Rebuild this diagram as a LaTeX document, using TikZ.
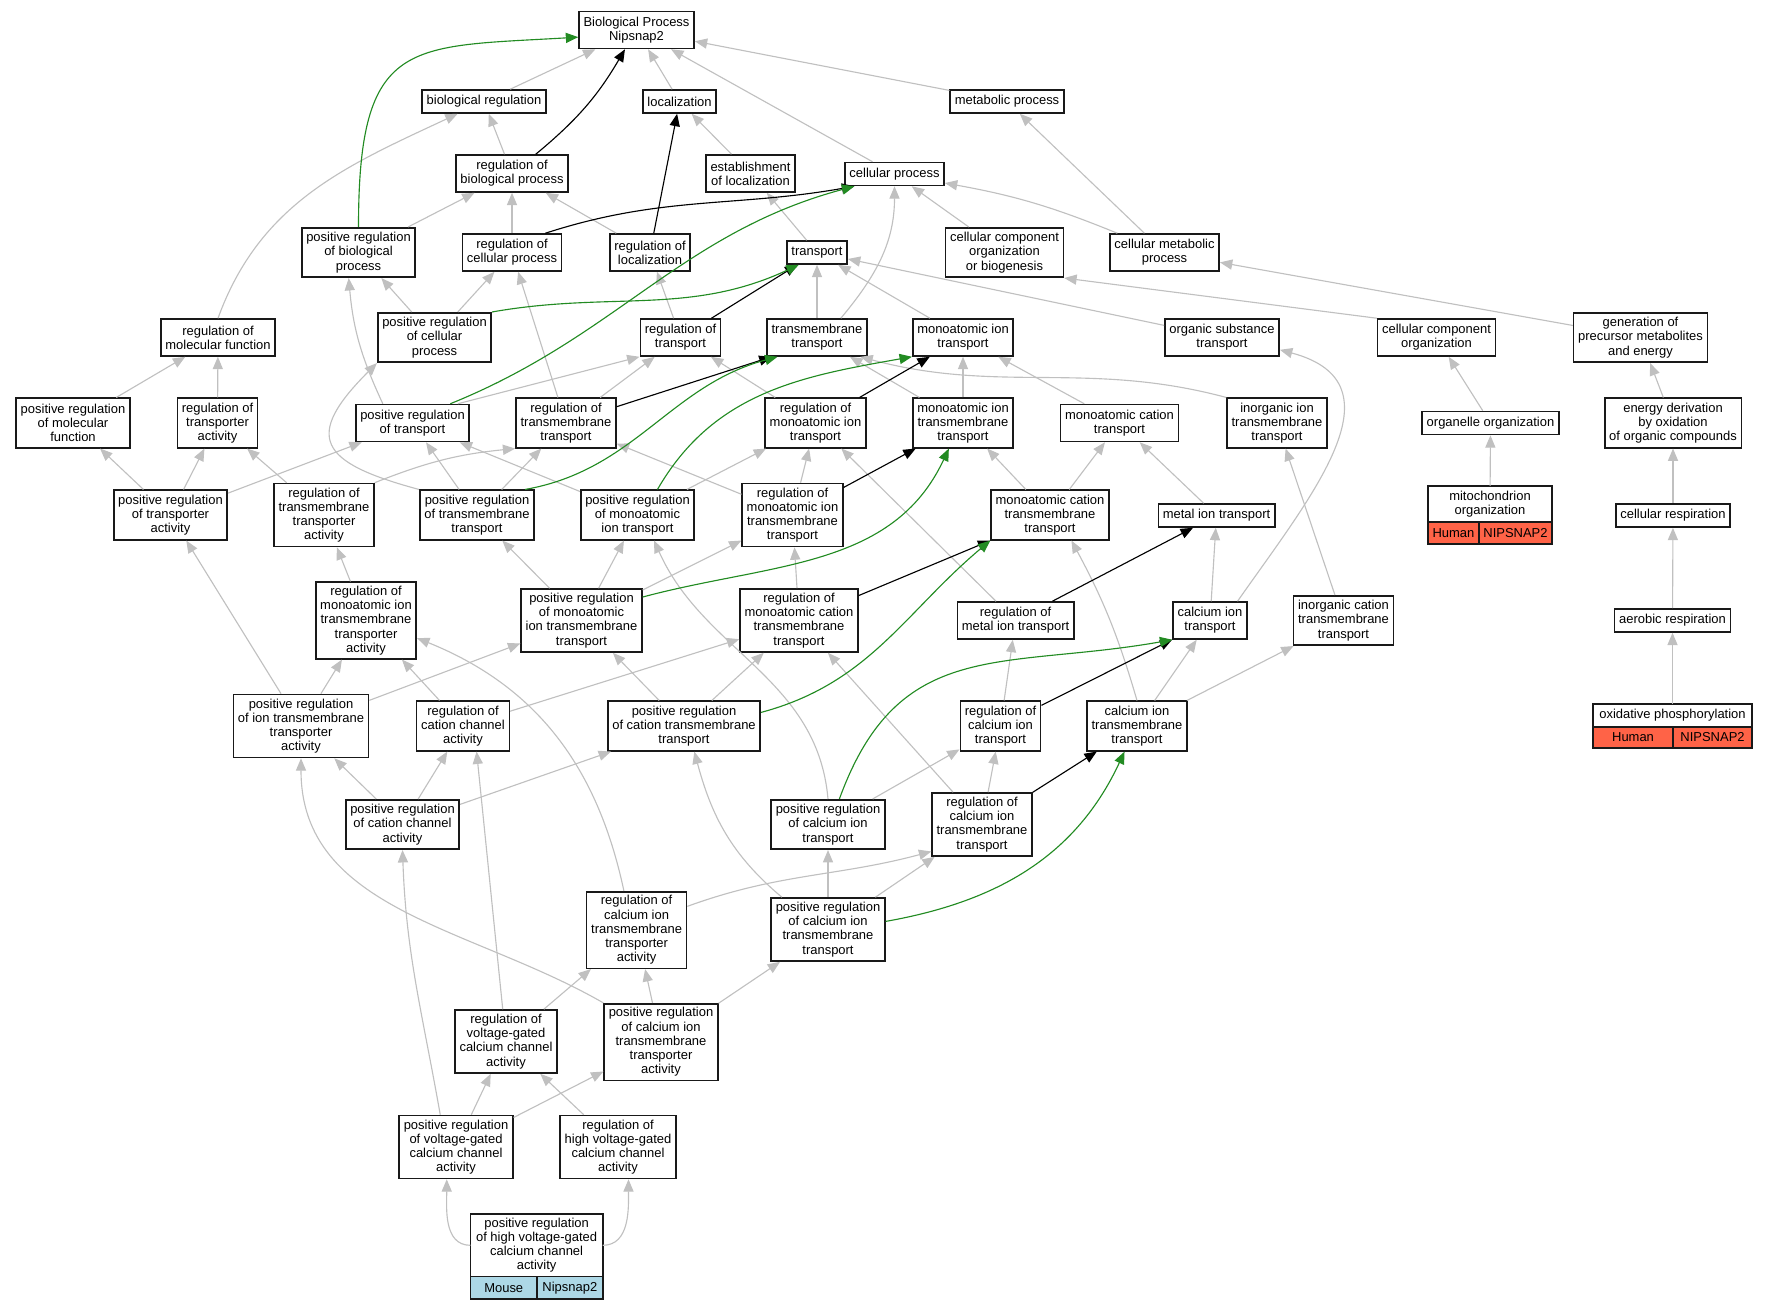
\documentclass[tikz,border=0pt]{standalone}
\usepackage{fontspec}
\setmainfont{Liberation Sans}
\usepackage{tikz}
\usetikzlibrary{arrows.meta}
\definecolor{isagray}{HTML}{C0C0C0}
\definecolor{posgreen}{HTML}{228B22}
\definecolor{humanred}{HTML}{FF6347}
\definecolor{mouseblue}{HTML}{ADD8E6}

\begin{document}
\begin{tikzpicture}[x=0.887pt, y=0.887pt,
    term/.style={draw=black!90, line width=1.4pt, fill=white, align=center,
                 inner xsep=4pt, inner ysep=2pt, font=\fontsize{11.5}{12.6}\selectfont},
    l1/.style={term, minimum height=20.4pt},
    l2/.style={term, minimum height=32.8pt},
    l3/.style={term, minimum height=43.9pt},
    l4/.style={term, minimum height=55.9pt},
    l5/.style={term, minimum height=67.9pt},
    cell/.style={draw=black!90, line width=1.4pt, inner sep=0pt, outer sep=0pt,
                 font=\fontsize{11.5}{12.6}\selectfont, anchor=north west},
    human/.style={cell, fill=humanred},
    mouse/.style={cell, fill=mouseblue},
    isa/.style={-{Triangle[length=11pt, width=9pt]}, line width=1pt, isagray},
    regs/.style={-{Triangle[length=11pt, width=9pt]}, line width=1pt, black},
    posregs/.style={-{Triangle[length=11pt, width=9pt]}, line width=1pt, posgreen}
  ]
  \useasboundingbox (0,0) rectangle (1767,-1309);
  % --- top levels ---
  \node[l2] (root) at (636.5,-30) {Biological Process\\Nipsnap2};
  \node[l1] (bioreg) at (484,-101.5) {biological regulation};
  \node[l1] (loc) at (679.5,-101.5) {localization};
  \node[l1] (metab) at (1007,-101.5) {metabolic process};
  \node[l2] (regbio) at (512,-173.5) {regulation of\\biological process};
  \node[l2] (estloc) at (750.5,-173.5) {establishment\\of localization};
  \node[l1] (cellproc) at (894.5,-174) {cellular process};
  \node[l3] (posbio) at (358.5,-252.5) {positive regulation\\of biological\\process};
  \node[l2] (regcell) at (512,-252.5) {regulation of\\cellular process};
  \node[l2] (regloc) at (650,-252.5) {regulation of\\localization};
  \node[l1] (transport) at (817,-252.5) {transport};
  \node[l3] (ccorg) at (1004.5,-252.5) {cellular component\\organization\\or biogenesis};
  \node[l2] (cellmet) at (1164.5,-252.5) {cellular metabolic\\process};
  % --- transport levels ---
  \node[l2] (regmol) at (218,-337.5) {regulation of\\molecular function};
  \node[l3] (poscell) at (434.5,-337.5) {positive regulation\\of cellular\\process};
  \node[l2] (regtransp) at (680.5,-337.5) {regulation of\\transport};
  \node[l2] (tmtransport) at (817,-337.5) {transmembrane\\transport};
  \node[l2] (mit) at (963,-337.5) {monoatomic ion\\transport};
  \node[l2] (orgsub) at (1222,-337.5) {organic substance\\transport};
  \node[l2] (ccorg2) at (1436.5,-337.5) {cellular component\\organization};
  \node[l3] (genprec) at (1640.5,-337.5) {generation of\\precursor metabolites\\and energy};
  \node[l3] (posmol) at (73,-423) {positive regulation\\of molecular\\function};
  \node[l3] (regtra) at (217.5,-423) {regulation of\\transporter\\activity};
  \node[l2] (postransp) at (412.5,-423) {positive regulation\\of transport};
  \node[l3] (regtmt) at (566,-423) {regulation of\\transmembrane\\transport};
  \node[l3] (regmit) at (815.5,-423) {regulation of\\monoatomic ion\\transport};
  \node[l3] (mitt) at (963,-423) {monoatomic ion\\transmembrane\\transport};
  \node[l2] (mct) at (1119.5,-423) {monoatomic cation\\transport};
  \node[l3] (iit) at (1277,-423) {inorganic ion\\transmembrane\\transport};
  \node[l1] (orgorg) at (1490.5,-423) {organelle organization};
  \node[l3] (ender) at (1673,-423) {energy derivation\\by oxidation\\of organic compounds};
  \node[l3] (postra) at (170.5,-515) {positive regulation\\of transporter\\activity};
  \node[l4] (regtmta) at (324,-515) {regulation of\\transmembrane\\transporter\\activity};
  \node[l3] (postmt) at (477,-515) {positive regulation\\of transmembrane\\transport};
  \node[l3] (posmi) at (637.5,-515) {positive regulation\\of monoatomic\\ion transport};
  \node[l4] (regmitt) at (792.5,-515) {regulation of\\monoatomic ion\\transmembrane\\transport};
  \node[l3] (mctt) at (1050,-515) {monoatomic cation\\transmembrane\\transport};
  \node[l1] (metalt) at (1216.5,-515.5) {metal ion transport};
  \node[term, minimum width=110pt, minimum height=32pt, outer sep=0pt] (mito) at (1490,-504)
    {mitochondrion\\organization};
  \node[human, minimum width=45.2pt, minimum height=19.5pt] (mitoH) at (mito.south west) {Human};
  \node[human, minimum width=64.8pt, minimum height=19.5pt] (mitoN) at (mitoH.north east) {NIPSNAP2};
  \node[l1] (cellresp) at (1673,-515.5) {cellular respiration};
  % --- channel levels ---
  \node[l5] (regmitta) at (366,-620.5) {regulation of\\monoatomic ion\\transmembrane\\transporter\\activity};
  \node[l4] (posmitt) at (581.5,-620.5) {positive regulation\\of monoatomic\\ion transmembrane\\transport};
  \node[l4] (regmctt) at (799,-620.5) {regulation of\\monoatomic cation\\transmembrane\\transport};
  \node[l2] (regmetal) at (1015.5,-620.5) {regulation of\\metal ion transport};
  \node[l2] (calt) at (1210,-620.5) {calcium ion\\transport};
  \node[l3] (ict) at (1343.5,-620.5) {inorganic cation\\transmembrane\\transport};
  \node[l1] (aerob) at (1672.5,-620.5) {aerobic respiration};
  \node[l4] (positta) at (301,-726) {positive regulation\\of ion transmembrane\\transporter\\activity};
  \node[l3] (regcca) at (463,-726) {regulation of\\cation channel\\activity};
  \node[l3] (posctt) at (684,-726) {positive regulation\\of cation transmembrane\\transport};
  \node[l3] (regcit) at (1000.5,-726) {regulation of\\calcium ion\\transport};
  \node[l3] (catt) at (1137,-726) {calcium ion\\transmembrane\\transport};
  \node[term, minimum width=141pt, minimum height=20.4pt, outer sep=0pt] (oxphos) at (1672.5,-715.5)
    {oxidative phosphorylation};
  \node[human, minimum width=71pt, minimum height=18.6pt] (oxH) at (oxphos.south west) {Human};
  \node[human, minimum width=70pt, minimum height=18.6pt] (oxN) at (oxH.north east) {NIPSNAP2};
  \node[l3] (poscca) at (402.5,-824.5) {positive regulation\\of cation channel\\activity};
  \node[l3] (posciont) at (828,-824.5) {positive regulation\\of calcium ion\\transport};
  \node[l4] (regcitt) at (982,-824.5) {regulation of\\calcium ion\\transmembrane\\transport};
  \node[l5] (regcitta) at (636.6,-930) {regulation of\\calcium ion\\transmembrane\\transporter\\activity};
  \node[l4] (posciontt) at (828,-929.5) {positive regulation\\of calcium ion\\transmembrane\\transport};
  \node[l4] (regvg) at (506,-1041.5) {regulation of\\voltage-gated\\calcium channel\\activity};
  \node[l5] (poscitta) at (661,-1042) {positive regulation\\of calcium ion\\transmembrane\\transporter\\activity};
  \node[l4] (posvg) at (456,-1147) {positive regulation\\of voltage-gated\\calcium channel\\activity};
  \node[l4] (reghvg) at (618,-1147) {regulation of\\high voltage-gated\\calcium channel\\activity};
  \node[term, minimum width=117.3pt, minimum height=55.6pt, outer sep=0pt] (poshvg) at (536.6,-1245.3)
    {positive regulation\\of high voltage-gated\\calcium channel\\activity};
  \node[mouse, minimum width=59pt, minimum height=19.8pt] (poshvgM) at (poshvg.south west) {Mouse};
  \node[mouse, minimum width=58.3pt, minimum height=19.8pt] (poshvgN) at (poshvgM.north east) {Nipsnap2};

  % --- is_a edges ---
  \draw[isa] (bioreg) -- (root);
  \draw[isa] (loc) -- (root);
  \draw[isa] (cellproc) -- (root);
  \draw[isa] (metab) -- (root);
  \draw[isa] (regbio) -- (bioreg);
  \draw[isa] (regmol.north) to[out=70,in=205] (bioreg.205);
  \draw[isa] (estloc) -- (loc);
  \draw[isa] (cellmet) -- (metab);
  \draw[isa] (posbio) -- (regbio);
  \draw[isa] (regcell) -- (regbio);
  \draw[isa] (regloc) -- (regbio);
  \draw[isa] (transport) -- (estloc);
  \draw[isa] (tmtransport.39) to[out=50,in=-90] (cellproc.south);
  \draw[isa] (ccorg) -- (cellproc);
  \draw[isa] (cellmet) to[bend right=6] (cellproc);
  \draw[isa] (poscell) -- (posbio);
  \draw[isa] (postransp.147) to[out=115,in=-85] (posbio.249);
  \draw[isa] (poscell) -- (regcell);
  \draw[isa] (regtmt) -- (regcell);
  \draw[isa] (regtransp) -- (regloc);
  \draw[isa] (tmtransport) -- (transport);
  \draw[isa] (mit) -- (transport);
  \draw[isa] (orgsub) -- (transport);
  \draw[isa] (posmol) -- (regmol);
  \draw[isa] (regtra) -- (regmol);
  \draw[isa] (postmt.north west) to[out=165,in=225,looseness=2] (poscell.south west);
  \draw[isa] (postra) -- (posmol);
  \draw[isa] (postra) -- (regtra);
  \draw[isa] (regtmta) -- (regtra);
  \draw[isa] (postra) -- (postransp);
  \draw[isa] (postmt) -- (postransp);
  \draw[isa] (posmi) -- (postransp);
  \draw[isa] (regtmta.north east) to[bend left=8] (regtmt.south west);
  \draw[isa] (postmt) -- (regtmt);
  \draw[isa] (regmitt) -- (regtmt);
  \draw[isa] (posmi) -- (regmit);
  \draw[isa] (regmitt) -- (regmit);
  \draw[isa] (regmetal) -- (regmit);
  \draw[isa] (postransp.23) -- (regtransp.south west);
  \draw[isa] (regtmt) -- (regtransp);
  \draw[isa] (regmit) -- (regtransp);
  \draw[isa] (mitt) -- (tmtransport);
  \draw[isa] (iit.north west) to[out=165,in=-15] (tmtransport.-24);
  \draw[isa] (mitt) -- (mit);
  \draw[isa] (mct) -- (mit);
  \draw[isa] (mctt) -- (mitt);
  \draw[isa] (mctt) -- (mct);
  \draw[isa] (metalt) -- (mct);
  \draw[isa] (ict) -- (iit);
  \draw[isa] (calt.35) to[out=55,in=-15,looseness=1.3] (orgsub.-12);
  \draw[isa] (ccorg2.north west) -- (ccorg.south east);
  \draw[isa] (genprec) -- (cellmet);
  \draw[isa] (orgorg) -- (ccorg2);
  \draw[isa] (ender) -- (genprec);
  \draw[isa] (mito) -- (orgorg);
  \draw[isa] (cellresp) -- (ender);
  \draw[isa] (aerob) -- (cellresp);
  \draw[isa] (oxphos) -- (aerob);
  \draw[isa] (positta) -- (postra);
  \draw[isa] (regmitta) -- (regtmta);
  \draw[isa] (posmitt) -- (postmt);
  \draw[isa] (posmitt) -- (posmi);
  \draw[isa] (posciont.north) to[out=95,in=-66] (posmi.-57);
  \draw[isa] (posmitt) -- (regmitt);
  \draw[isa] (regmctt) -- (regmitt);
  \draw[isa] (calt) -- (metalt);
  \draw[isa] (positta) -- (regmitta);
  \draw[isa] (regcca) -- (regmitta);
  \draw[isa] (regcitta.108) to[out=102,in=-22] (regmitta.-19);
  \draw[isa] (positta) -- (posmitt);
  \draw[isa] (posctt) -- (posmitt);
  \draw[isa] (regcca) -- (regmctt);
  \draw[isa] (posctt) -- (regmctt);
  \draw[isa] (regcitt) -- (regmctt);
  \draw[isa] (catt.north) to[bend right=6] (mctt.-50);
  \draw[isa] (regcit) -- (regmetal);
  \draw[isa] (catt) -- (calt);
  \draw[isa] (catt) -- (ict);
  \draw[isa] (poscca) -- (regcca);
  \draw[isa] (regvg) -- (regcca.-62);
  \draw[isa] (poscca) -- (positta);
  \draw[isa] (poscitta.north west) to[out=150,in=-90] (positta.south);
  \draw[isa] (poscca) -- (posctt);
  \draw[isa] (posciontt.145) to[out=140,in=-75] (posctt.-68);
  \draw[isa] (posciont) -- (regcit);
  \draw[isa] (regcitt) -- (regcit);
  \draw[isa] (posciontt) -- (posciont);
  \draw[isa] (regcitta.25) to[out=20,in=195] (regcitt.208);
  \draw[isa] (posciontt) -- (regcitt);
  \draw[isa] (regvg) -- (regcitta);
  \draw[isa] (poscitta) -- (regcitta);
  \draw[isa] (poscitta) -- (posciontt);
  \draw[isa] (posvg) -- (regvg);
  \draw[isa] (reghvg) -- (regvg);
  \draw[isa] (posvg.116) to[out=100,in=-88] (poscca.south);
  \draw[isa] (posvg) -- (poscitta);
  \draw[isa] (poshvg.west) to[out=180,in=-90] (posvg.254);
  \draw[isa] (poshvg.east) to[out=0,in=-90] (reghvg.-72);

  % --- regulates edges ---
  \draw[regs] (regbio) to[bend right=10] (root);
  \draw[regs] (regloc) -- (loc);
  \draw[regs] (regcell.30) to[out=18,in=190] (cellproc.197);
  \draw[regs] (regtransp) -- (transport);
  \draw[regs] (regtmt) -- (tmtransport.203);
  \draw[regs] (regmit) -- (mit);
  \draw[regs] (regmitt) -- (mitt);
  \draw[regs] (regmctt) -- (mctt.south west);
  \draw[regs] (regmetal) -- (metalt);
  \draw[regs] (regcit) -- (calt);
  \draw[regs] (regcitt) -- (catt);

  % --- positively regulates edges ---
  \draw[posregs] (posbio.north) .. controls +(0,190) and +(-170,-10) .. (root.187);
  \draw[posregs] (poscell.north east) to[out=10,in=205] (transport.214);
  \draw[posregs] (postransp.27) to[out=22,in=195] (cellproc.197);
  \draw[posregs] (postmt.28) to[out=10,in=195] (tmtransport.206);
  \draw[posregs] (posmi.52) to[out=60,in=190] (mit.south west);
  \draw[posregs] (posmitt.21) to[out=15,in=245] (mitt.241);
  \draw[posregs] (posctt.10) to[out=15,in=220] (mctt.south west);
  \draw[posregs] (posciont.66) to[out=70,in=190,looseness=1.2] (calt.south west);
  \draw[posregs] (posciontt.8) to[out=10,in=245] (catt.244);
\end{tikzpicture}
\end{document}
